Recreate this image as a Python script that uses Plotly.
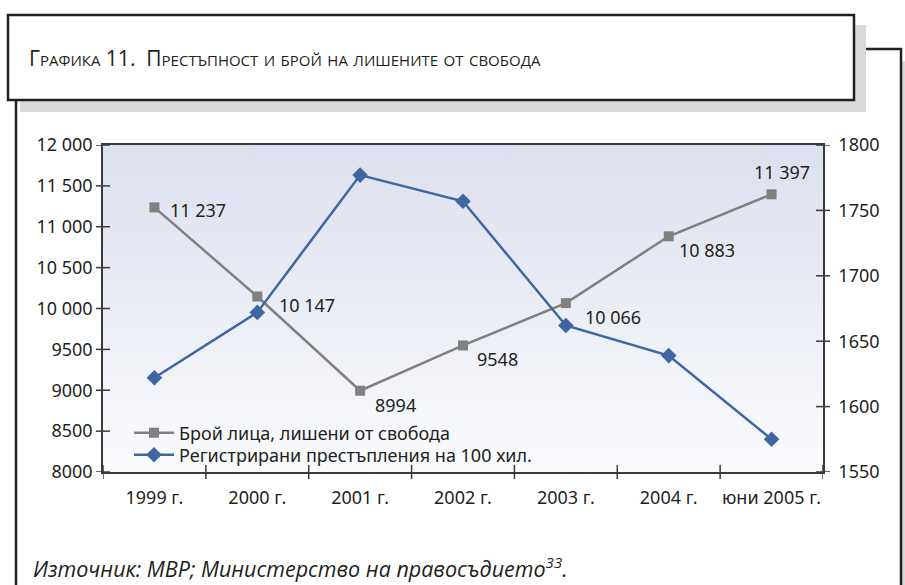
import plotly.graph_objects as go

# ---------------- data ----------------
years = ["1999 г.", "2000 г.", "2001 г.", "2002 г.", "2003 г.", "2004 г.", "юни 2005 г."]
prisoners = [11237, 10147, 8994, 9548, 10066, 10883, 11397]
prisoner_labels = ["11 237", "10 147", "8994", "9548", "10 066", "10 883", "11 397"]
crimes = [1622, 1672, 1777, 1757, 1662, 1639, 1575]

left_tickvals = [8000, 8500, 9000, 9500, 10000, 10500, 11000, 11500, 12000]
left_ticktext = ["8000", "8500", "9000", "9500", "10 000", "10 500", "11 000", "11 500", "12 000"]
right_tickvals = [1550, 1600, 1650, 1700, 1750, 1800]
right_ticktext = ["1550", "1600", "1650", "1700", "1750", "1800"]

name_prisoners = "Брой лица, лишени от свобода"
name_crimes = "Регистрирани престъпления на 100 хил."
title_text = "Графика 11.\u00a0\u00a0Престъпност и брой на лишените от свобода"
source_text = "<i>Източник: МВР; Министерство на правосъдието<sup>33</sup>.</i>"

# ---------------- layout geometry (pixels) ----------------
W_FIG, H_FIG = 905, 585
L, R, T, B = 103, 823, 145, 472
PW, PH = R - L, B - T


def px(x):
    return (x - L) / PW


def py(y):
    return (B - y) / PH


FONT = "Noto Sans, Open Sans, sans-serif"
TXT = "#231f20"
AX = "#3a3a3a"
GRAY = "#808080"
BLUE = "#3d66a2"

xs = list(range(len(years)))
x_lo, x_hi = -0.5, len(years) - 0.5
bounds = [i - 0.5 for i in range(len(years) + 1)]

# label placement (pixel offsets of each value label: anchor, dx, dy)
label_style = [("left", 14, -3), ("left", 20, -9), ("left", 13, -14), ("left", 12, -14),
               ("left", 17, -14), ("left", 8, -14), ("center", 10, 22)]

fig = go.Figure()

# background gradient of plot area
fig.add_trace(go.Scatter(
    x=[x_lo, x_hi, x_hi, x_lo, x_lo],
    y=[left_tickvals[0], left_tickvals[0], left_tickvals[-1], left_tickvals[-1], left_tickvals[0]],
    mode="lines", line=dict(width=0), fill="toself",
    fillgradient=dict(type="vertical", colorscale=[[0, "#fafbfd"], [1, "#dce0ee"]]),
    hoverinfo="skip", showlegend=False,
))

fig.add_trace(go.Scatter(
    x=xs, y=prisoners, name=name_prisoners, legend="legend",
    mode="lines+markers",
    line=dict(color=GRAY, width=2.5),
    marker=dict(symbol="square", size=10, color=GRAY),
))

fig.add_trace(go.Scatter(
    x=xs, y=crimes, name=name_crimes, yaxis="y2", legend="legend2",
    mode="lines+markers",
    line=dict(color=BLUE, width=2.5),
    marker=dict(symbol="diamond", size=12, color=BLUE),
))

shapes = []


def rect(x0, y0, x1, y1, fill, line_w=0, line_c="black"):
    shapes.append(dict(type="rect", xref="paper", yref="paper",
                       x0=px(x0), x1=px(x1), y0=py(y1), y1=py(y0),
                       fillcolor=fill, line=dict(width=line_w, color=line_c),
                       layer="below"))


# outer frame with shadow
rect(28, 61, 913, 620, "#d9dadc")
rect(16, 49, 901, 620, "white", 2.5, "#231f20")
# title box with shadow
rect(20, 25, 866, 112, "#d9dadc")
rect(8, 15, 854, 100, "white", 2.5, "#231f20")

# crossing tick marks
for v in left_tickvals:
    shapes.append(dict(type="line", xref="paper", xsizemode="pixel", xanchor=0,
                       x0=-7, x1=7, yref="y", y0=v, y1=v,
                       line=dict(color=AX, width=1.5), layer="above"))
for v in right_tickvals:
    shapes.append(dict(type="line", xref="paper", xsizemode="pixel", xanchor=1,
                       x0=-7, x1=7, yref="y2", y0=v, y1=v,
                       line=dict(color=AX, width=1.5), layer="above"))
for b in bounds:
    shapes.append(dict(type="line", yref="paper", ysizemode="pixel", yanchor=0,
                       y0=-7, y1=7, xref="x", x0=b, x1=b,
                       line=dict(color=AX, width=1.5), layer="above"))

annotations = [
    dict(text=title_text, xref="paper", yref="paper", x=px(27), y=py(58),
         xanchor="left", yanchor="middle", showarrow=False,
         font=dict(family="Liberation Sans Narrow, Open Sans, sans-serif", size=21,
                   color=TXT, variant="small-caps")),
    dict(text=source_text, xref="paper", yref="paper", x=px(31), y=py(567),
         xanchor="left", yanchor="middle", showarrow=False,
         font=dict(family="Liberation Sans Narrow, Open Sans, sans-serif", size=21.5, color=TXT)),
]
for xi, yi, lab, (anc, dx, dy) in zip(xs, prisoners, prisoner_labels, label_style):
    annotations.append(dict(text=lab, x=xi, y=yi, xref="x", yref="y",
                            xanchor=anc, yanchor="middle", xshift=dx, yshift=dy,
                            showarrow=False, font=dict(size=18, color=TXT, family=FONT)))

legend_common = dict(xanchor="left", yanchor="middle", bgcolor="rgba(0,0,0,0)",
                     font=dict(size=18, color=TXT, family=FONT), itemwidth=40)

fig.update_layout(
    width=W_FIG, height=H_FIG,
    margin=dict(l=L, r=W_FIG - R, t=T, b=H_FIG - B, pad=0),
    paper_bgcolor="white", plot_bgcolor="rgba(0,0,0,0)",
    font=dict(family=FONT, size=18, color=TXT),
    xaxis=dict(range=[x_lo, x_hi], tickmode="array", tickvals=xs, ticktext=years,
               ticks="outside", ticklen=9, tickcolor="rgba(0,0,0,0)",
               showline=True, linecolor=AX, linewidth=1.5, mirror=True,
               showgrid=False, zeroline=False, tickfont=dict(size=18, color=TXT)),
    yaxis=dict(range=[left_tickvals[0], left_tickvals[-1]], tickmode="array",
               tickvals=left_tickvals, ticktext=left_ticktext,
               ticks="outside", ticklen=5, tickcolor="rgba(0,0,0,0)",
               showline=True, linecolor=AX, linewidth=1.5,
               showgrid=False, zeroline=False, tickfont=dict(size=18, color=TXT)),
    yaxis2=dict(range=[right_tickvals[0], right_tickvals[-1]], overlaying="y", side="right",
                tickmode="array", tickvals=right_tickvals, ticktext=right_ticktext,
                ticks="outside", ticklen=10, tickcolor="rgba(0,0,0,0)",
                showline=True, linecolor=AX, linewidth=1.5,
                showgrid=False, zeroline=False, tickfont=dict(size=18, color=TXT)),
    legend=dict(x=px(129), y=py(433), **legend_common),
    legend2=dict(x=px(129), y=py(455), **legend_common),
    shapes=shapes,
    annotations=annotations,
    showlegend=True,
)

fig.write_html("out.html", config={"displayModeBar": False},
               post_script="document.body.style.margin='0';document.body.style.padding='0';")
